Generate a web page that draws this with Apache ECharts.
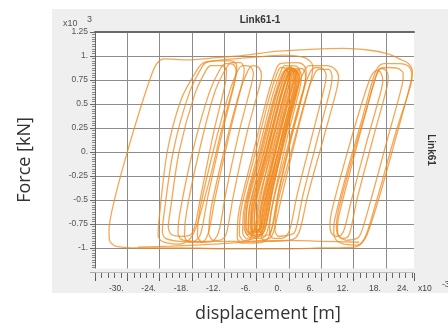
<!DOCTYPE html>
<html>
<head>
<meta charset="utf-8">
<script src="https://cdn.jsdelivr.net/npm/echarts@6/dist/echarts.min.js"></script>
<style>
  html, body { margin: 0; padding: 0; background: #fff; }
  #wrap { position: relative; width: 448px; height: 327px; }
  #panel { position: absolute; left: 52px; top: 9px; width: 396px; height: 284px; background: #efefef; }
  #chart { position: absolute; left: 0; top: 0; width: 448px; height: 327px; }
</style>
</head>
<body>
<div id="wrap">
  <div id="panel"></div>
  <div id="chart"></div>
</div>
<script>
// displacement in x10^-3 m, force in x10^3 kN
const bigLoop = [
  [-28, -1.0], [-32.2, -0.98], [-33.3, -0.92], [-33.4, -0.82], [-32.4, -0.5], [-30.0, 0.0],
  [-27.6, 0.45], [-25.4, 0.82], [-24.4, 0.93], [-23.2, 0.97], [-19, 0.96], [-14, 0.98],
  [-8, 1.01], [-2, 1.05], [4, 1.07], [10, 1.08], [15, 1.06], [18.5, 1.02], [20.5, 0.97],
  [22.2, 0.92], [22.9, 0.84], [22.6, 0.7], [19.8, 0.2], [16.8, -0.4], [14.6, -0.82],
  [13.6, -0.94], [12.2, -0.99], [6, -1.0], [-2, -1.01], [-10, -1.01], [-20, -1.0], [-28, -1.0]
];

const leftLoops = [
  [[-21, -0.96], [-23.6, -0.93], [-24.3, -0.86], [-24.1, -0.7], [-22.6, 0.0], [-20.0, 0.55], [-17.0, 0.86], [-15.8, 0.93], [-13, 0.95], [-10.6, 0.95], [-9.7, 0.9], [-9.9, 0.78], [-12.2, 0.3], [-14.8, -0.3], [-17.2, -0.78], [-18.3, -0.9], [-19.5, -0.95], [-21, -0.96]],
  [[-20.5, -0.93], [-22.9, -0.9], [-23.5, -0.83], [-23.2, -0.65], [-21.5, 0.0], [-18.6, 0.6], [-16.0, 0.9], [-15.0, 0.94], [-8, 0.98], [-1, 1.01], [3, 0.98], [4.4, 0.9], [4.2, 0.78], [1.5, 0.2], [-1.5, -0.5], [-2.8, -0.82], [-3.6, -0.9], [-8, -0.93], [-15, -0.93], [-20.5, -0.93]],
  [[-19.8, -0.88], [-21.8, -0.86], [-22.4, -0.78], [-22.0, -0.6], [-20.4, 0.0], [-17.5, 0.6], [-15.3, 0.86], [-14.5, 0.9], [-12.5, 0.9], [-11.6, 0.85], [-11.8, 0.72], [-14, 0.2], [-16.5, -0.5], [-17.4, -0.76], [-18.2, -0.86], [-19.8, -0.88]],
  [[-17.5, -0.93], [-20.0, -0.91], [-20.6, -0.84], [-20.2, -0.62], [-17.9, 0.0], [-14.9, 0.6], [-12.6, 0.88], [-11.6, 0.92], [-10.3, 0.91], [-9.8, 0.84], [-10.1, 0.72], [-12.4, 0.2], [-15, -0.45], [-16.0, -0.76], [-16.6, -0.88], [-17.5, -0.93]],
  [[-18.8, -0.94], [-19.4, -0.87], [-19.0, -0.62], [-16.7, 0.0], [-13.8, 0.62], [-11.6, 0.88], [-10.6, 0.93], [-9.0, 0.93], [-8.3, 0.86], [-8.6, 0.74], [-11.0, 0.2], [-13.6, -0.45], [-14.7, -0.78], [-15.3, -0.89], [-16.2, -0.94], [-18.8, -0.94]],
  [[-16.3, -0.94], [-17.0, -0.87], [-16.6, -0.62], [-14.1, 0.0], [-11.2, 0.6], [-9.4, 0.86], [-8.5, 0.9], [-7.2, 0.89], [-6.6, 0.82], [-7.0, 0.7], [-9.3, 0.2], [-11.8, -0.45], [-12.8, -0.78], [-13.4, -0.88], [-14.3, -0.93], [-16.3, -0.94]],
  [[-14.2, -0.92], [-14.9, -0.85], [-14.5, -0.6], [-12.1, 0.0], [-9.3, 0.6], [-7.6, 0.85], [-6.7, 0.9], [-5.6, 0.88], [-5.1, 0.8], [-5.5, 0.68], [-7.8, 0.2], [-10.3, -0.45], [-11.4, -0.8], [-12.0, -0.89], [-13.0, -0.92], [-14.2, -0.92]]
];

const denseLoops = [
  [[-8.6, -0.92], [-9.2, -0.86], [-8.9, -0.6], [-6.2, 0.0], [-3.6, 0.58], [-2.2, 0.82], [-1.5, 0.88], [-0.6, 0.87], [-0.1, 0.8], [-0.4, 0.68], [-2.6, 0.2], [-5.0, -0.4], [-6.3, -0.78], [-6.9, -0.88], [-7.6, -0.92], [-8.6, -0.92]],
  [[-8.0, -0.9], [-8.6, -0.84], [-8.3, -0.58], [-5.7, 0.0], [-3.0, 0.6], [-1.5, 0.84], [-0.8, 0.9], [0.3, 0.89], [0.8, 0.82], [0.5, 0.7], [-1.8, 0.2], [-4.3, -0.42], [-5.5, -0.78], [-6.1, -0.88], [-6.9, -0.91], [-8.0, -0.9]],
  [[-7.4, -0.89], [-8.0, -0.83], [-7.7, -0.56], [-5.0, 0.0], [-2.4, 0.58], [-0.9, 0.83], [-0.2, 0.88], [0.8, 0.87], [1.3, 0.8], [1.0, 0.68], [-1.2, 0.2], [-3.6, -0.42], [-4.8, -0.78], [-5.4, -0.87], [-6.2, -0.9], [-7.4, -0.89]],
  [[-6.9, -0.87], [-7.5, -0.81], [-7.2, -0.55], [-4.5, 0.02], [-1.9, 0.6], [-0.4, 0.84], [0.4, 0.9], [1.5, 0.89], [2.0, 0.82], [1.7, 0.7], [-0.6, 0.2], [-3.0, -0.4], [-4.2, -0.76], [-4.8, -0.85], [-5.6, -0.88], [-6.9, -0.87]],
  [[-6.4, -0.9], [-7.0, -0.84], [-6.7, -0.58], [-4.1, 0.0], [-1.5, 0.58], [0.0, 0.83], [0.7, 0.87], [1.8, 0.86], [2.3, 0.78], [2.0, 0.66], [-0.2, 0.18], [-2.6, -0.42], [-3.8, -0.78], [-4.4, -0.87], [-5.2, -0.9], [-6.4, -0.9]],
  [[-5.9, -0.86], [-6.5, -0.8], [-6.2, -0.55], [-3.6, 0.0], [-1.1, 0.56], [0.3, 0.8], [1.0, 0.85], [1.6, 0.84], [1.9, 0.77], [1.6, 0.66], [-0.6, 0.2], [-3.0, -0.38], [-4.1, -0.72], [-4.6, -0.82], [-5.2, -0.86], [-5.9, -0.86]],
  [[-5.5, -0.84], [-6.0, -0.78], [-5.7, -0.52], [-3.1, 0.02], [-0.7, 0.56], [0.6, 0.8], [1.2, 0.84], [1.7, 0.82], [1.9, 0.74], [1.5, 0.62], [-0.8, 0.12], [-3.2, -0.42], [-4.2, -0.72], [-4.7, -0.8], [-5.5, -0.84]],
  [[-4.8, -0.88], [-5.4, -0.82], [-5.1, -0.56], [-2.5, 0.0], [0.0, 0.56], [1.4, 0.82], [2.0, 0.87], [2.7, 0.86], [3.1, 0.79], [2.8, 0.66], [0.6, 0.18], [-1.8, -0.4], [-3.0, -0.76], [-3.6, -0.85], [-4.8, -0.88]],
  [[-9.0, -0.95], [-9.6, -0.89], [-9.3, -0.62], [-6.6, 0.0], [-3.9, 0.6], [-2.4, 0.86], [-1.6, 0.92], [1.5, 0.93], [2.8, 0.9], [3.2, 0.82], [2.9, 0.7], [0.5, 0.18], [-2.0, -0.42], [-3.2, -0.8], [-3.9, -0.9], [-5, -0.94], [-9.0, -0.95]],
  [[-7.8, -0.86], [-8.3, -0.8], [-8.0, -0.55], [-5.4, 0.0], [-2.8, 0.56], [-1.4, 0.8], [-0.7, 0.85], [-0.2, 0.84], [0.1, 0.76], [-0.2, 0.64], [-2.4, 0.14], [-4.8, -0.44], [-6.0, -0.76], [-6.5, -0.83], [-7.8, -0.86]],
  [[-6.8, -0.85], [-7.2, -0.79], [-6.9, -0.54], [-4.3, 0.0], [-1.8, 0.55], [-0.4, 0.8], [0.3, 0.85], [0.8, 0.84], [1.1, 0.77], [0.8, 0.65], [-1.5, 0.14], [-3.9, -0.42], [-5.0, -0.74], [-5.6, -0.82], [-6.8, -0.85]],
  [[-6.2, -0.88], [-6.8, -0.82], [-6.5, -0.56], [-3.9, 0.02], [-1.4, 0.58], [0.0, 0.82], [0.6, 0.86], [1.2, 0.85], [1.5, 0.78], [1.2, 0.66], [-1.0, 0.16], [-3.4, -0.42], [-4.6, -0.76], [-5.1, -0.85], [-6.2, -0.88]],
  [[-6.6, -0.83], [-7.0, -0.77], [-6.7, -0.52], [-4.0, 0.04], [-1.6, 0.57], [-0.2, 0.81], [0.5, 0.86], [1.0, 0.85], [1.3, 0.76], [1.0, 0.64], [-1.3, 0.16], [-3.7, -0.4], [-4.8, -0.72], [-5.4, -0.8], [-6.6, -0.83]],
  [[-7.1, -0.88], [-7.6, -0.82], [-7.3, -0.56], [-4.7, 0.0], [-2.1, 0.57], [-0.7, 0.82], [0.0, 0.87], [0.6, 0.86], [0.9, 0.79], [0.6, 0.67], [-1.7, 0.18], [-4.1, -0.42], [-5.3, -0.77], [-5.9, -0.85], [-7.1, -0.88]],
  [[-6.0, -0.82], [-6.4, -0.76], [-6.1, -0.5], [-3.5, 0.05], [-1.0, 0.58], [0.3, 0.82], [0.9, 0.86], [1.4, 0.85], [1.6, 0.77], [1.3, 0.65], [-1.0, 0.15], [-3.4, -0.4], [-4.5, -0.72], [-5.0, -0.79], [-6.0, -0.82]],
  [[-7.6, -0.84], [-8.0, -0.78], [-7.7, -0.52], [-5.1, 0.03], [-2.6, 0.57], [-1.1, 0.81], [-0.4, 0.86], [0.2, 0.85], [0.4, 0.77], [0.1, 0.65], [-2.1, 0.15], [-4.5, -0.42], [-5.7, -0.74], [-6.2, -0.81], [-7.6, -0.84]]
];

const centerLoops = [
  [[-4.6, -0.93], [-5.2, -0.87], [-4.8, -0.6], [-2.0, 0.0], [1.0, 0.58], [2.8, 0.84], [3.8, 0.9], [7.0, 0.9], [8.6, 0.86], [9.2, 0.78], [8.8, 0.64], [6.2, 0.1], [3.5, -0.45], [2.1, -0.8], [1.3, -0.89], [0, -0.92], [-4.6, -0.93]],
  [[-3.0, -0.9], [-3.6, -0.84], [-3.2, -0.58], [-0.5, 0.0], [2.4, 0.6], [4.0, 0.84], [5.0, 0.88], [6.2, 0.87], [6.9, 0.8], [6.6, 0.68], [4.2, 0.15], [1.5, -0.45], [0.3, -0.78], [-0.4, -0.87], [-1.4, -0.9], [-3.0, -0.9]],
  [[-2.0, -0.88], [-2.6, -0.82], [-2.2, -0.56], [0.4, 0.0], [3.2, 0.58], [4.8, 0.82], [5.6, 0.86], [7.4, 0.86], [8.0, 0.78], [7.7, 0.66], [5.2, 0.12], [2.6, -0.45], [1.4, -0.78], [0.8, -0.85], [-2.0, -0.88]]
];

const rightLoops = [
  [[10.2, -0.96], [8.8, -0.92], [8.3, -0.84], [8.5, -0.7], [10.8, -0.2], [13.6, 0.35], [15.8, 0.8], [16.6, 0.89], [17.6, 0.92], [20.5, 0.92], [22.2, 0.89], [22.8, 0.8], [22.4, 0.68], [19.6, 0.1], [16.6, -0.5], [14.5, -0.86], [13.6, -0.94], [12.6, -0.97], [10.2, -0.96]],
  [[10.6, -0.92], [9.4, -0.89], [9.0, -0.82], [9.2, -0.68], [11.6, -0.15], [14.2, 0.4], [16.2, 0.8], [17.0, 0.87], [18.2, 0.88], [20.2, 0.87], [21.2, 0.82], [21.0, 0.7], [18.2, 0.12], [15.2, -0.5], [13.4, -0.84], [12.6, -0.9], [10.6, -0.92]],
  [[8.6, -0.88], [7.8, -0.84], [7.6, -0.76], [8.0, -0.6], [10.6, -0.05], [13.2, 0.45], [15.0, 0.76], [15.7, 0.83], [16.4, 0.85], [17.1, 0.82], [17.4, 0.74], [17.0, 0.62], [14.4, 0.1], [11.6, -0.5], [10.3, -0.8], [9.6, -0.87], [8.6, -0.88]],
  [[9.8, -0.9], [9.0, -0.86], [8.8, -0.78], [9.2, -0.6], [11.8, -0.05], [14.4, 0.45], [16.2, 0.8], [16.9, 0.87], [17.8, 0.86], [18.4, 0.8], [18.2, 0.68], [15.5, 0.12], [12.6, -0.5], [11.4, -0.82], [10.8, -0.89], [9.8, -0.9]]
];

const bottomPath = [[13, -0.94], [6, -0.93], [0, -0.92], [-6, -0.93], [-14, -0.96], [-22, -0.98], [-28, -0.99]];

const xTickValues = [-30, -24, -18, -12, -6, 0, 6, 12, 18];
const xTickLabels = ['-30.', '-24.', '-18.', '-12.', '-6.', '0.', '6.', '12.', '18.'];
const xEdgeLabel = '24.';

const chart = echarts.init(document.getElementById('chart'));
const font = '"Liberation Sans", Arial, sans-serif';
const loops = [bigLoop].concat(leftLoops, denseLoops, centerLoops, rightLoops, [bottomPath]);

chart.setOption({
  animation: false,
  grid: { left: 95, top: 32, width: 319, height: 240, show: true, backgroundColor: '#fff', borderWidth: 0 },
  xAxis: [
    {
      type: 'value', min: -36, max: 23.2, interval: 6,
      axisLine: { show: false, onZero: false }, axisTick: { show: false }, axisLabel: { show: false },
      splitLine: { show: true, showMaxLine: false, lineStyle: { color: '#8c8c8c', width: 1 } }
    },
    {
      // major ticks + labels of the detached ruler
      type: 'value', min: -36, max: 23.2, interval: 6, position: 'bottom', offset: 1,
      axisLine: { show: false, onZero: false },
      axisTick: { show: true, length: 8, lineStyle: { color: '#555' } },
      splitLine: { show: false },
      axisLabel: {
        show: true, fontSize: 8.5, fontFamily: font, color: '#444', margin: 11,
        padding: [0, 22, 0, 0],
        formatter: v => {
          const i = xTickValues.indexOf(v);
          if (i >= 0) return xTickLabels[i];
          return v > 23 ? xEdgeLabel : '';
        }
      }
    },
    {
      type: 'value', min: -36, max: 23.2, position: 'top',
      axisLine: { show: true, onZero: false, lineStyle: { color: '#6a6a6a', width: 2 } },
      axisTick: { show: false }, axisLabel: { show: false }, splitLine: { show: false }
    },
    {
      // minor ticks of the ruler
      type: 'value', min: -36, max: 23.2, interval: 1.2, position: 'bottom', offset: 1,
      axisLine: { show: false, onZero: false },
      axisTick: { show: true, length: 5, lineStyle: { color: '#666' } },
      axisLabel: { show: false }, splitLine: { show: false }
    }
  ],
  yAxis: {
    type: 'value', min: -1.25, max: 1.25, interval: 0.25,
    axisLine: { show: true, onZero: false, lineStyle: { color: '#666', width: 1 } },
    axisTick: { show: true, length: 5, lineStyle: { color: '#666' } },
    minorTick: { show: true, splitNumber: 10, length: 3, lineStyle: { color: '#888' } },
    splitLine: { show: true, lineStyle: { color: '#8c8c8c', width: 1 } },
    axisLabel: {
      fontSize: 8.5, fontFamily: font, color: '#555', margin: 7,
      formatter: v => {
        if (v < -1.2) return '';
        return Number.isInteger(v) ? v + '.' : String(v);
      }
    }
  },
  graphic: [
    { type: 'rect', z: 100, shape: { x: 84, y: 268.5, width: 330, height: 4 }, style: { fill: '#efefef' }, silent: true },
    { type: 'text', x: 260, y: 20, style: { text: 'Link61-1', font: 'bold 10px ' + font, fill: '#333', align: 'center', verticalAlign: 'middle' } },
    { type: 'text', x: 431, y: 150, rotation: -Math.PI / 2, style: { text: 'Link61', font: 'bold 10px ' + font, fill: '#333', align: 'center', verticalAlign: 'middle' } },
    { type: 'text', x: 63, y: 24, style: { text: 'x10', font: '9px ' + font, fill: '#555', align: 'left', verticalAlign: 'middle' } },
    { type: 'text', x: 87, y: 20, style: { text: '3', font: '9px ' + font, fill: '#555', align: 'left', verticalAlign: 'middle' } },
    { type: 'text', x: 418, y: 289, style: { text: 'x10', font: '8.5px ' + font, fill: '#444', align: 'left', verticalAlign: 'middle' } },
    { type: 'text', x: 442, y: 285, style: { text: '-3', font: '8.5px ' + font, fill: '#444', align: 'left', verticalAlign: 'middle' } },
    { type: 'text', x: 25, y: 160, rotation: Math.PI / 2, style: { text: 'Force [kN]', font: '18px "Open Sans", sans-serif', fill: '#333', align: 'center', verticalAlign: 'middle' } },
    { type: 'text', x: 268, y: 314, style: { text: 'displacement [m]', font: '18px "Open Sans", sans-serif', fill: '#333', align: 'center', verticalAlign: 'middle' } }
  ],
  series: loops.map(d => ({
    type: 'line',
    data: d,
    showSymbol: false,
    smooth: 0.3,
    silent: true,
    lineStyle: { color: '#f28a1e', width: 1.3, opacity: 0.75 }
  }))
});
</script>
</body>
</html>
